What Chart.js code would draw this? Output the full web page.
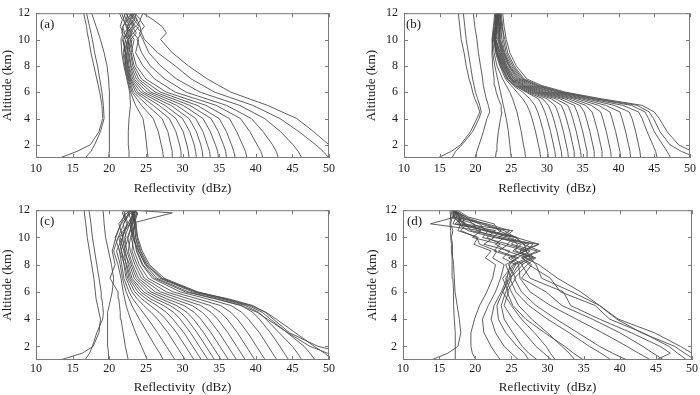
<!DOCTYPE html>
<html>
<head>
<meta charset="utf-8">
<script src="https://cdn.jsdelivr.net/npm/chart.js@4.4.0/dist/chart.umd.min.js"></script>
<style>
  body { margin: 0; background: #fff; }
  #wrap { position: relative; width: 700px; height: 395px; }
  canvas { position: absolute; }
</style>
</head>
<body>
<div id="wrap">
  <canvas id="chartA" width="340" height="197" style="left:0;top:0"></canvas>
  <canvas id="chartB" width="350" height="197" style="left:350px;top:0"></canvas>
  <canvas id="chartC" width="340" height="198" style="left:0;top:197px"></canvas>
  <canvas id="chartD" width="350" height="198" style="left:350px;top:197px"></canvas>
</div>
<script>
// axis ticks
const xTicks = [10, 15, 20, 25, 30, 35, 40, 45, 50];
const yTicks = [2, 4, 6, 8, 10, 12];

// (a) reflectivity (dBz) at each altitude (km)
const altA = [1, 1.5, 2, 3, 4, 5, 6, 7, 8, 9, 10, 10.5, 11, 11.5, 12];
const profilesA = [
  [13.2, 15.6, 17.4, 18.6, 19.1, 19.0, 18.7, 18.3, 17.9, 17.5, 17.2, 17.0, 16.9, 16.7, 16.5],
  [16.7, 17.5, 18.0, 18.8, 19.3, 19.2, 19.0, 18.7, 18.4, 18.0, 17.7, 17.5, 17.3, 17.1, 16.9],
  [19.9, 20.0, 20.0, 20.0, 20.0, 20.1, 20.0, 19.9, 19.7, 19.3, 18.8, 18.5, 18.2, 17.9, 17.6],
  [22.8, 22.7, 22.6, 22.6, 22.7, 22.9, 22.8, 22.4, 22.0, 21.7, 21.6, 21.9, 21.5, 21.8, 21.4],
  [25.3, 25.2, 25.1, 24.9, 24.6, 23.6, 22.9, 22.5, 22.1, 21.9, 22.2, 21.7, 21.9, 22.3, 22.0],
  [27.4, 27.3, 27.1, 26.7, 26.0, 24.4, 23.1, 22.6, 22.2, 22.3, 21.8, 22.4, 22.5, 21.9, 22.2],
  [28.7, 28.6, 28.4, 28.0, 27.2, 25.2, 23.3, 22.7, 22.3, 22.0, 22.5, 22.1, 21.8, 22.6, 22.4],
  [29.9, 29.8, 29.6, 29.1, 28.2, 26.0, 23.6, 22.8, 22.4, 22.2, 21.9, 22.6, 22.3, 22.0, 21.7],
  [30.9, 30.8, 30.6, 30.1, 29.1, 26.8, 23.9, 22.9, 22.5, 22.4, 22.7, 22.0, 22.8, 22.3, 22.6],
  [31.9, 31.8, 31.6, 31.0, 30.0, 27.6, 24.3, 23.0, 22.6, 22.2, 22.6, 23.1, 22.4, 22.9, 22.2],
  [32.8, 32.7, 32.5, 31.9, 30.9, 28.4, 24.7, 23.2, 22.7, 22.5, 22.9, 22.3, 23.2, 22.5, 23.0],
  [33.8, 33.7, 33.4, 32.8, 31.8, 29.2, 25.2, 23.4, 22.9, 22.6, 22.2, 22.9, 22.5, 23.3, 22.7],
  [34.9, 34.8, 34.5, 33.8, 32.8, 30.1, 25.7, 23.7, 23.0, 22.7, 23.1, 22.5, 23.4, 22.8, 23.2],
  [36.0, 35.9, 35.6, 34.9, 33.9, 31.0, 26.3, 24.0, 23.2, 22.9, 22.5, 23.3, 22.7, 23.5, 22.9],
  [37.2, 37.0, 36.7, 36.0, 35.0, 32.0, 27.0, 24.4, 23.4, 23.0, 23.4, 22.8, 23.6, 23.0, 23.4],
  [38.8, 38.6, 38.2, 37.4, 36.4, 33.2, 27.8, 25.0, 23.7, 23.2, 22.9, 23.7, 23.1, 23.8, 23.0],
  [41.0, 40.7, 40.2, 39.2, 37.9, 34.6, 29.0, 26.2, 24.6, 23.6, 24.0, 23.3, 24.1, 23.4, 23.7],
  [43.1, 42.8, 42.3, 41.0, 39.4, 36.0, 30.5, 27.6, 25.6, 24.4, 23.8, 24.4, 23.7, 24.3, 23.5],
  [46.3, 45.8, 45.1, 43.4, 41.2, 37.8, 32.4, 29.2, 27.0, 25.4, 24.6, 24.1, 24.8, 24.2, 24.6],
  [50.0, 49.2, 48.2, 45.9, 43.3, 39.6, 34.4, 31.2, 29.0, 26.6, 24.8, 24.4, 24.2, 23.8, 23.4],
  [52.0, 51.0, 50.0, 47.9, 45.6, 41.6, 36.6, 33.4, 30.8, 28.6, 27.0, 27.8, 27.2, 26.0, 24.6]
];

// (b)
const altB = [1, 1.5, 2, 3, 4, 4.5, 5, 5.5, 6, 6.5, 7, 8, 9, 10, 11, 12];
const profilesB = [
  [14.7, 16.6, 17.9, 19.3, 20.2, 20.6, 20.3, 19.9, 19.6, 19.4, 19.1, 18.7, 18.4, 18.0, 17.8, 17.6],
  [16.7, 17.2, 18.1, 19.6, 20.5, 20.8, 20.6, 20.3, 20.0, 19.8, 19.6, 19.3, 19.0, 18.7, 18.5, 18.3],
  [19.9, 20.2, 20.5, 21.1, 21.6, 22.0, 21.8, 21.5, 21.3, 21.1, 21.0, 20.7, 20.4, 20.2, 19.9, 19.7],
  [22.8, 22.9, 23.0, 23.2, 23.5, 23.7, 23.6, 23.2, 22.9, 22.7, 22.6, 22.4, 22.3, 22.4, 22.6, 22.8],
  [25.0, 24.9, 24.8, 24.6, 24.3, 24.1, 23.9, 23.7, 23.5, 23.3, 23.1, 22.7, 22.4, 22.3, 22.5, 22.7],
  [27.0, 26.9, 26.7, 26.4, 26.0, 25.8, 25.5, 25.2, 24.8, 24.3, 23.8, 23.0, 22.6, 22.4, 22.7, 22.9],
  [29.1, 29.0, 28.8, 28.4, 27.9, 27.6, 27.2, 26.6, 25.8, 25.0, 24.2, 23.4, 22.8, 22.6, 22.8, 23.1],
  [30.2, 30.1, 29.9, 29.5, 29.0, 28.7, 28.3, 27.6, 26.6, 25.3, 24.4, 23.5, 22.9, 22.6, 22.9, 22.8],
  [31.2, 31.1, 30.9, 30.5, 30.0, 29.7, 29.3, 28.8, 27.1, 25.5, 24.5, 23.6, 23.0, 22.5, 22.8, 23.2],
  [32.1, 32.0, 31.8, 31.4, 30.9, 30.6, 30.2, 29.4, 27.3, 25.6, 24.6, 23.7, 23.0, 22.7, 23.0, 22.9],
  [33.0, 32.9, 32.7, 32.3, 31.8, 31.5, 31.1, 30.0, 27.6, 25.8, 24.8, 23.8, 23.1, 22.6, 22.9, 23.0],
  [33.9, 33.8, 33.6, 33.2, 32.7, 32.4, 32.0, 30.6, 27.9, 26.0, 24.9, 23.9, 23.2, 22.8, 23.1, 23.2],
  [34.8, 34.7, 34.5, 34.1, 33.6, 33.3, 32.9, 31.2, 28.2, 26.2, 25.0, 24.0, 23.3, 22.7, 22.8, 22.9],
  [35.7, 35.6, 35.4, 35.0, 34.5, 34.2, 33.8, 31.8, 28.5, 26.4, 25.1, 24.1, 23.4, 22.9, 23.2, 23.1],
  [36.7, 36.6, 36.4, 36.0, 35.5, 35.2, 34.6, 32.4, 28.8, 26.6, 25.3, 24.2, 23.5, 22.8, 23.0, 23.3],
  [37.8, 37.7, 37.5, 37.1, 36.6, 36.3, 35.4, 33.0, 29.2, 26.8, 25.4, 24.3, 23.6, 23.1, 23.3, 23.0],
  [39.0, 38.9, 38.7, 38.3, 37.8, 37.5, 36.2, 33.6, 29.6, 27.0, 25.6, 24.4, 23.7, 23.2, 23.4, 23.2],
  [40.3, 40.2, 40.0, 39.6, 39.1, 38.8, 37.2, 34.2, 30.0, 27.3, 25.8, 24.6, 23.8, 23.3, 23.5, 23.4],
  [41.7, 41.6, 41.4, 41.0, 40.5, 40.2, 38.2, 34.8, 30.5, 27.6, 26.0, 24.7, 23.9, 23.4, 23.3, 23.1],
  [43.1, 43.0, 42.8, 42.4, 41.9, 41.5, 39.4, 35.4, 30.9, 27.9, 26.2, 24.8, 24.0, 23.5, 23.6, 23.5],
  [45.4, 45.2, 44.8, 44.0, 43.3, 42.8, 40.6, 36.0, 31.4, 28.3, 26.4, 25.0, 24.1, 23.7, 23.5, 23.3],
  [47.3, 46.8, 46.2, 45.0, 44.2, 43.7, 41.8, 36.6, 31.8, 28.6, 26.6, 25.2, 24.3, 23.9, 23.8, 23.6],
  [51.0, 48.8, 47.2, 45.8, 44.9, 44.3, 42.6, 37.0, 32.2, 28.9, 26.8, 25.4, 24.5, 24.1, 23.7, 23.4],
  [53.0, 50.3, 48.4, 46.8, 45.7, 45.0, 43.3, 37.6, 32.6, 29.3, 27.2, 25.7, 24.8, 24.3, 24.0, 23.8]
];

// (c)
const altC = [1, 1.5, 2, 3, 4, 4.5, 5, 5.5, 6, 7, 8, 9, 10, 11, 11.8, 12];
const profilesC = [
  [13.3, 16.3, 17.8, 18.6, 18.8, 18.6, 18.4, 18.2, 18.1, 17.9, 17.6, 17.3, 17.0, 16.8, 16.6, 16.6],
  [16.7, 17.3, 17.7, 18.3, 19.1, 19.2, 19.1, 19.0, 18.9, 18.6, 18.3, 18.0, 17.7, 17.5, 17.3, 17.2],
  [19.9, 19.9, 19.8, 19.8, 19.7, 19.8, 20.0, 20.2, 20.4, 20.6, 20.3, 19.9, 19.5, 19.3, 19.2, 19.1],
  [22.6, 22.4, 22.2, 21.9, 21.6, 21.5, 21.4, 21.3, 21.2, 20.1, 20.8, 20.4, 20.9, 21.6, 22.2, 21.8],
  [25.2, 24.8, 24.4, 23.6, 22.9, 22.6, 22.3, 22.1, 21.9, 21.6, 21.2, 20.6, 21.2, 22.0, 22.6, 22.3],
  [27.4, 26.9, 26.3, 25.2, 24.1, 23.6, 23.1, 22.7, 22.3, 21.8, 21.5, 21.0, 21.8, 22.4, 21.8, 22.0],
  [29.0, 28.4, 27.8, 26.6, 25.3, 24.6, 23.9, 23.2, 22.7, 22.0, 21.7, 21.4, 20.8, 21.6, 22.8, 22.5],
  [30.4, 29.8, 29.2, 28.0, 26.6, 25.7, 24.7, 23.8, 23.1, 22.3, 22.0, 21.7, 21.3, 22.6, 22.0, 22.4],
  [31.6, 31.0, 30.4, 29.2, 27.7, 26.8, 25.6, 24.4, 23.5, 22.5, 22.1, 21.4, 21.9, 21.3, 22.4, 23.0],
  [32.6, 32.0, 31.4, 30.2, 28.7, 27.8, 26.5, 25.0, 23.9, 22.7, 22.3, 22.0, 21.5, 22.8, 23.2, 22.6],
  [33.5, 32.9, 32.3, 31.1, 29.7, 28.8, 27.4, 25.6, 24.3, 22.9, 22.4, 21.6, 22.3, 21.9, 22.9, 23.3],
  [34.4, 33.8, 33.2, 32.0, 30.6, 29.7, 28.3, 26.3, 24.7, 23.1, 22.6, 22.2, 21.8, 22.5, 23.4, 22.8],
  [35.3, 34.7, 34.1, 32.9, 31.5, 30.6, 29.2, 27.0, 25.2, 23.4, 22.8, 22.0, 22.6, 23.2, 22.6, 23.1],
  [36.3, 35.7, 35.1, 33.9, 32.5, 31.6, 30.2, 27.8, 25.7, 23.7, 23.0, 22.4, 22.1, 22.8, 23.5, 22.9],
  [37.4, 36.8, 36.2, 35.0, 33.6, 32.7, 31.3, 28.7, 26.3, 24.0, 23.2, 22.6, 22.9, 23.5, 23.0, 23.4],
  [38.6, 38.0, 37.4, 36.2, 34.8, 33.9, 32.5, 29.7, 27.0, 24.4, 23.5, 22.9, 22.5, 23.1, 23.7, 23.2],
  [39.9, 39.3, 38.7, 37.5, 36.1, 35.2, 33.8, 30.8, 27.8, 24.8, 23.8, 23.1, 23.3, 22.8, 23.4, 23.6],
  [41.3, 40.7, 40.1, 38.9, 37.5, 36.6, 35.2, 32.0, 28.7, 25.3, 24.1, 23.4, 23.0, 23.6, 23.1, 23.5],
  [42.9, 42.3, 41.7, 40.5, 39.0, 38.1, 36.6, 33.3, 29.7, 25.9, 24.5, 23.7, 23.4, 23.2, 23.8, 23.3],
  [44.5, 43.9, 43.3, 42.0, 40.5, 39.6, 38.0, 34.6, 30.8, 26.5, 24.9, 24.0, 23.6, 23.7, 23.3, 23.7],
  [46.3, 45.7, 45.0, 43.2, 41.4, 40.4, 38.6, 35.2, 31.4, 26.9, 25.1, 24.2, 23.6, 23.4, 23.9, 23.5],
  [48.1, 47.4, 46.6, 44.3, 42.0, 40.9, 39.0, 35.6, 31.8, 27.2, 25.3, 24.3, 23.8, 23.5, 23.2, 23.6],
  [50.5, 49.4, 48.0, 45.4, 42.8, 41.4, 39.3, 35.9, 32.1, 27.5, 25.5, 24.5, 23.9, 23.6, 23.4, 23.8],
  [56.0, 52.5, 48.5, 44.6, 42.4, 41.3, 39.6, 36.2, 31.8, 27.2, 25.0, 24.0, 23.2, 22.8, 28.6, 23.4],
  [54.0, 49.8, 47.4, 44.4, 41.6, 40.2, 38.0, 34.4, 30.4, 26.2, 24.6, 23.8, 23.4, 23.0, 23.5, 23.1]
];

// (d)
const altD = [1, 1.5, 2, 3, 4, 5, 6, 7, 8, 8.5, 9, 9.5, 10, 10.5, 11, 11.5, 12];
const profilesD = [
  [17.3, 17.3, 17.2, 17.2, 17.1, 17.0, 17.0, 16.9, 16.8, 16.8, 16.7, 16.7, 16.6, 16.6, 16.5, 16.6, 16.5],
  [13.9, 16.2, 17.6, 18.0, 17.8, 17.5, 17.2, 17.1, 17.0, 16.9, 16.9, 16.8, 16.7, 16.9, 16.6, 16.8, 16.9],
  [20.1, 19.6, 19.4, 19.4, 19.9, 20.6, 21.6, 22.4, 22.8, 21.4, 22.2, 19.8, 20.4, 17.6, 18.0, 17.0, 17.2],
  [23.5, 22.8, 22.2, 21.2, 21.0, 21.8, 22.8, 23.5, 24.0, 22.4, 23.0, 20.6, 20.2, 18.0, 18.8, 17.1, 17.4],
  [26.0, 25.0, 24.0, 22.8, 22.2, 22.6, 23.6, 24.4, 24.8, 25.6, 22.6, 23.4, 19.6, 20.8, 13.8, 17.2, 16.9],
  [27.4, 26.8, 25.8, 24.2, 23.2, 23.0, 23.8, 24.6, 25.6, 23.8, 24.8, 21.2, 22.6, 19.0, 17.6, 17.8, 17.3],
  [28.6, 27.4, 26.5, 25.2, 24.0, 23.6, 24.2, 25.0, 24.2, 26.0, 23.2, 24.6, 21.0, 21.8, 16.9, 17.4, 17.1],
  [30.6, 29.5, 28.4, 26.8, 25.2, 24.0, 24.6, 23.8, 25.2, 27.2, 24.4, 22.8, 24.0, 19.4, 18.6, 16.6, 16.8],
  [31.1, 30.4, 29.8, 28.2, 26.4, 25.0, 23.8, 24.8, 26.0, 24.6, 27.0, 23.6, 21.6, 22.8, 17.8, 17.9, 17.2],
  [33.8, 33.0, 32.0, 30.0, 27.8, 26.0, 25.0, 24.2, 25.4, 28.0, 25.2, 26.4, 23.0, 20.2, 19.8, 17.0, 17.0],
  [35.0, 33.6, 32.4, 29.6, 27.0, 25.2, 24.4, 25.6, 24.6, 25.8, 27.6, 24.4, 25.4, 21.6, 17.2, 18.2, 16.8],
  [38.8, 37.4, 35.8, 33.0, 30.0, 27.4, 25.6, 24.8, 26.6, 25.0, 26.8, 28.8, 22.4, 23.6, 20.8, 17.4, 17.3],
  [41.0, 39.0, 37.2, 34.2, 31.2, 28.4, 26.4, 25.4, 27.2, 28.4, 25.6, 25.8, 24.8, 21.2, 18.4, 18.4, 17.0],
  [44.3, 42.6, 41.0, 37.6, 34.0, 30.4, 27.6, 26.2, 26.0, 27.6, 26.2, 27.4, 23.2, 24.8, 21.6, 17.6, 17.2],
  [46.1, 44.6, 43.2, 40.0, 36.2, 32.0, 29.8, 26.4, 27.8, 26.4, 28.6, 25.0, 25.8, 22.0, 19.6, 18.8, 16.9],
  [45.0, 47.0, 45.6, 41.6, 37.2, 33.2, 32.2, 27.6, 26.4, 28.2, 27.0, 28.0, 24.0, 25.2, 18.2, 17.8, 17.1],
  [49.3, 48.0, 46.8, 43.2, 38.6, 36.6, 31.8, 30.4, 27.4, 26.6, 29.0, 26.6, 25.6, 21.4, 20.6, 18.2, 16.8],
  [52.5, 50.0, 48.4, 44.8, 39.8, 37.2, 33.4, 29.2, 28.4, 27.6, 27.0, 26.8, 25.6, 24.0, 21.2, 18.6, 17.2],
  [50.4, 49.0, 47.6, 43.0, 39.6, 37.2, 34.6, 31.4, 28.8, 27.0, 26.2, 28.8, 25.6, 23.2, 22.6, 19.0, 17.5]
];

const lineColor = '#4d4d4d';
const frameColor = '#7a7a7a';
const textColor = '#1a1a1a';
const serif = '"Liberation Serif", "Times New Roman", serif';

// box, inward ticks on all four sides, panel letter
const framePlugin = {
  id: 'panelFrame',
  afterDraw(chart, args, opts) {
    const { ctx, chartArea: a, scales: { x, y } } = chart;
    ctx.save();
    ctx.strokeStyle = frameColor;
    ctx.lineWidth = 1;
    ctx.strokeRect(a.left + 0.5, a.top + 0.5, a.right - a.left - 1, a.bottom - a.top - 1);
    ctx.beginPath();
    xTicks.forEach(v => {
      const px = Math.round(x.getPixelForValue(v)) + 0.5;
      ctx.moveTo(px, a.top); ctx.lineTo(px, a.top + 4);
      ctx.moveTo(px, a.bottom); ctx.lineTo(px, a.bottom - 4);
    });
    yTicks.forEach(v => {
      const py = Math.round(y.getPixelForValue(v)) + 0.5;
      ctx.moveTo(a.left, py); ctx.lineTo(a.left + 4, py);
      ctx.moveTo(a.right, py); ctx.lineTo(a.right - 4, py);
    });
    ctx.stroke();
    ctx.fillStyle = textColor;
    ctx.font = '13px ' + serif;
    ctx.textBaseline = 'middle';
    ctx.fillText(opts.label, a.left + opts.labelDx, a.top + 11);
    ctx.restore();
  }
};

function makePanel(id, label, alts, profiles, box) {
  const datasets = profiles.map(p => ({
    data: p.map((v, i) => ({ x: v, y: alts[i] })),
    showLine: true,
    borderColor: lineColor,
    borderWidth: 0.9,
    pointRadius: 0,
    tension: 0,
    fill: false
  }));
  return new Chart(document.getElementById(id), {
    type: 'scatter',
    data: { datasets },
    options: {
      responsive: false,
      animation: false,
      devicePixelRatio: 1,
      layout: { padding: { top: box.padTop, right: box.padRight, left: 0, bottom: 0 } },
      plugins: {
        legend: { display: false },
        tooltip: { enabled: false },
        panelFrame: { label: label, labelDx: box.labelDx }
      },
      scales: {
        x: {
          type: 'linear', min: 10, max: 50,
          grid: { display: false, drawTicks: false },
          border: { display: false },
          afterBuildTicks: s => { s.ticks = xTicks.map(v => ({ value: v })); },
          afterFit: s => { s.height = box.xHeight; },
          ticks: { color: textColor, padding: box.xTickPad, maxRotation: 0, font: { family: serif, size: 12 } },
          title: { display: true, text: 'Reflectivity  (dBz)', color: textColor,
                   padding: { top: 0, bottom: box.xTitlePad }, font: { family: serif, size: 13 } }
        },
        y: {
          type: 'linear', min: 1, max: 12,
          grid: { display: false, drawTicks: false },
          border: { display: false },
          afterBuildTicks: s => { s.ticks = yTicks.map(v => ({ value: v })); },
          afterFit: s => { s.width = box.yWidth; },
          ticks: { color: textColor, padding: 6, font: { family: serif, size: 12 } },
          title: { display: true, text: 'Altitude (km)', color: textColor,
                   padding: { top: box.yTitlePad, bottom: 0 }, font: { family: serif, size: 13 } }
        }
      }
    },
    plugins: [framePlugin]
  });
}

makePanel('chartA', '(a)', altA, profilesA,
  { padTop: 5, padRight: 11, yWidth: 36, xHeight: 39, xTickPad: 4, xTitlePad: 1, yTitlePad: 0, labelDx: 4 });
makePanel('chartB', '(b)', altB, profilesB,
  { padTop: 5, padRight: 5, yWidth: 54, xHeight: 39, xTickPad: 4, xTitlePad: 1, yTitlePad: 14, labelDx: 2 });
makePanel('chartC', '(c)', altC, profilesC,
  { padTop: 10, padRight: 11, yWidth: 36, xHeight: 35, xTickPad: 2, xTitlePad: 0, yTitlePad: 0, labelDx: 4 });
makePanel('chartD', '(d)', altD, profilesD,
  { padTop: 10, padRight: 5, yWidth: 53, xHeight: 35, xTickPad: 2, xTitlePad: 0, yTitlePad: 15, labelDx: 4 });
</script>
</body>
</html>
